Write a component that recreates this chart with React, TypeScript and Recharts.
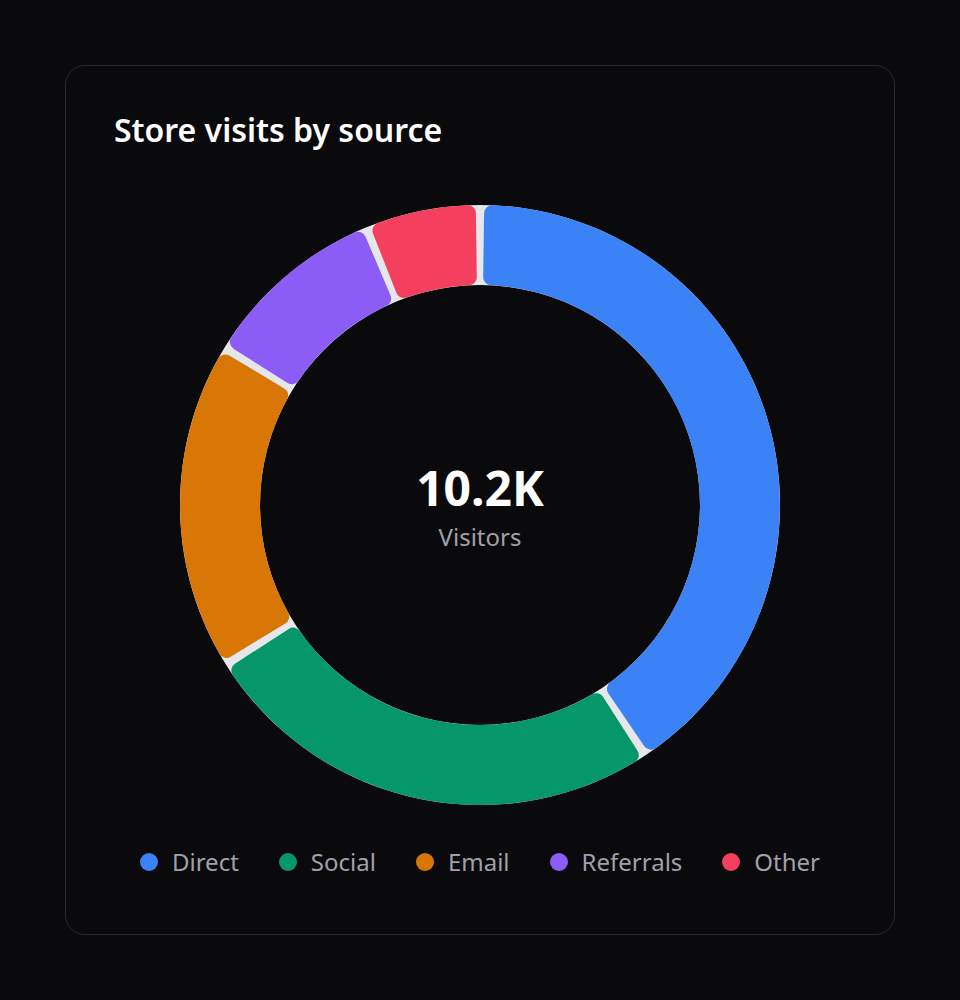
import { Cell, Label, Legend, Pie, PieChart } from "recharts"

const sources = ["Direct", "Social", "Email", "Referrals", "Other"]
const visits = [4200, 2600, 1800, 1000, 600]
const colors = ["#3b82f6", "#059669", "#d97706", "#8b5cf6", "#f43f5e"]
const totalLabel = "10.2K"
const centerCaption = "Visitors"
const title = "Store visits by source"

const font = "'Noto Sans', 'Open Sans', sans-serif"
const gap = 1.6

const data = sources.map((name, i) => ({ name, value: visits[i] }))
const track = [{ name: "track", value: 1 }]

function SourceLegend() {
  return (
    <div
      style={{
        display: "flex",
        justifyContent: "center",
        gap: 40,
        fontFamily: font,
        fontSize: 24,
        lineHeight: "33px",
        color: "#a1a1aa",
      }}
    >
      {sources.map((s, i) => (
        <div key={s} style={{ display: "flex", alignItems: "center" }}>
          <span
            style={{
              display: "inline-block",
              width: 18,
              height: 18,
              borderRadius: 9,
              background: colors[i],
              marginRight: 14,
            }}
          />
          {s}
        </div>
      ))}
    </div>
  )
}

function CenterText(props: any) {
  const vb = props.viewBox || {}
  const cx = vb.cx ?? 480
  const cy = vb.cy ?? 505
  return (
    <g>
      <text x={cx} y={cy + 1} textAnchor="middle" fill="#ffffff" fontFamily={font} fontSize={48} fontWeight={700}>
        {totalLabel}
      </text>
      <text x={cx} y={cy + 41} textAnchor="middle" fill="#a1a1aa" fontFamily={font} fontSize={24}>
        {centerCaption}
      </text>
    </g>
  )
}

export default function App() {
  return (
    <div style={{ position: "absolute", left: 0, top: 0, width: 960, height: 1000, background: "#0a0a0c" }}>
      <div
        style={{
          position: "absolute",
          left: 65,
          top: 65,
          width: 830,
          height: 870,
          boxSizing: "border-box",
          border: "1.5px solid #2a2a2e",
          borderRadius: 20,
          background: "#0a0a0c",
        }}
      />
      <div
        style={{
          position: "absolute",
          left: 114,
          top: 108,
          fontFamily: font,
          fontSize: 32,
          fontWeight: 600,
          color: "#ffffff",
          lineHeight: "normal",
          whiteSpace: "nowrap",
        }}
      >
        {title}
      </div>
      <div style={{ position: "absolute", left: 0, top: 0 }}>
        <PieChart width={960} height={1000} margin={{ top: 0, right: 0, bottom: 0, left: 0 }}>
          <Pie
            data={track}
            dataKey="value"
            cx={480}
            cy={505}
            innerRadius={220}
            outerRadius={300}
            startAngle={90}
            endAngle={-270}
            fill="#e5e7eb"
            stroke="none"
            isAnimationActive={false}
          />
          <Pie
            data={data}
            dataKey="value"
            nameKey="name"
            cx={480}
            cy={505}
            innerRadius={220}
            outerRadius={300}
            startAngle={90 - gap / 2}
            endAngle={-270 - gap / 2}
            paddingAngle={gap}
            cornerRadius={8}
            stroke="none"
            isAnimationActive={false}
          >
            {data.map((d, i) => (
              <Cell key={d.name} fill={colors[i]} />
            ))}
            <Label position="center" content={CenterText} />
          </Pie>
          <Legend
            content={SourceLegend}
            wrapperStyle={{ position: "absolute", left: 0, top: 845, width: 960 }}
          />
        </PieChart>
      </div>
    </div>
  )
}
